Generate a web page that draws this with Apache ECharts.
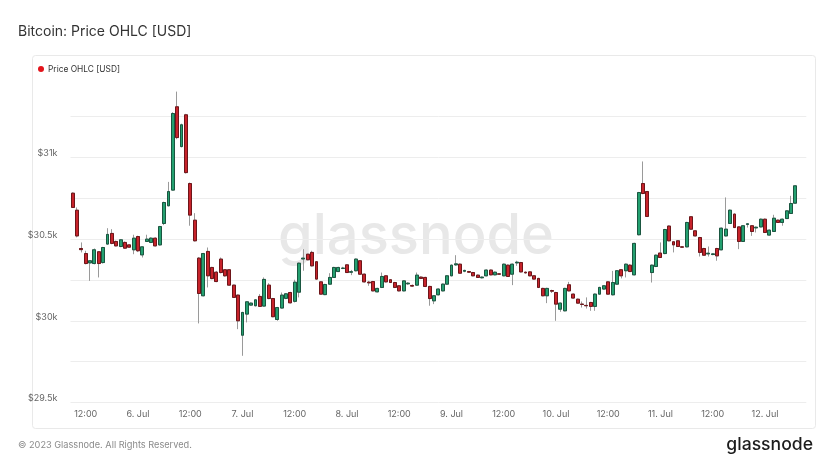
<!DOCTYPE html>
<html>
<head>
<meta charset="utf-8">
<script src="https://cdn.jsdelivr.net/npm/echarts@6/dist/echarts.min.js"></script>
<style>
html,body{margin:0;padding:0;background:#fff;}
#c{width:832px;height:468px;}
</style>
</head>
<body>
<div id="c"></div>
<script>
// Hourly candles starting 5 Jul 09:00 (hour offset from 5 Jul 00:00)
var startHour = 9;
var slotCount = 169; // categories on the axis (last two hours empty)
var categories = [];
for (var k = 0; k < slotCount; k++) {
  var h = startHour + k;
  var day = 5 + Math.floor(h / 24);
  var hh = h % 24;
  categories.push(day + '|' + hh);
}

var openValues = [30780,30676,30442,30411,30354,30350,30422,30356,30469,30534,30485,30454,30479,30464,30434,30515,30403,30485,30479,30505,
30464,30595,30703,30799,31308,31065,31259,30839,30615,30383,30153,30424,30326,30297,30377,30312,30312,30218,30157,29912,
30041,30096,30092,30149,30090,30218,30136,30008,30078,30137,30173,30119,30175,30378,30407,30418,30361,30238,30160,30224,
30265,30301,30320,30342,30297,30306,30367,30285,30236,30240,30177,30204,30275,30251,30234,30214,30183,30226,30216,30218,
30267,30265,30210,30122,30159,30183,30224,30275,30342,30346,30303,30301,30295,30279,30263,30275,30310,30281,30287,30275,
30340,30285,30354,30356,30297,30299,30275,30259,30198,30153,30185,30173,30071,30061,30220,30163,30132,30102,30094,30112,
30088,30163,30194,30238,30159,30224,30312,30306,30340,30281,30526,30839,30790,30295,30332,30414,30411,30579,30483,30489,
30452,30452,30636,30550,30509,30442,30409,30405,30442,30434,30519,30595,30652,30574,30485,30589,30581,30568,30574,30621,
30524,30546,30615,30601,30625,30656,30719];
var closeValues = [30693,30519,30435,30350,30367,30434,30350,30448,30528,30473,30458,30495,30444,30450,30505,30428,30452,30499,30505,30458,
30576,30723,30790,31267,31120,31198,30906,30646,30489,30167,30411,30275,30258,30240,30295,30275,30218,30143,30000,30051,
30116,30108,30128,30088,30253,30136,30025,30081,30157,30165,30110,30236,30352,30383,30373,30336,30255,30163,30222,30265,
30326,30326,30322,30295,30300,30377,30285,30238,30232,30183,30198,30271,30238,30234,30204,30183,30244,30230,30212,30279,
30259,30210,30136,30153,30194,30224,30275,30340,30348,30291,30308,30297,30275,30265,30267,30310,30281,30297,30285,30346,
30271,30346,30358,30299,30293,30275,30255,30204,30153,30198,30181,30102,30108,30198,30183,30139,30108,30100,30092,30088,
30163,30204,30214,30163,30234,30306,30275,30346,30301,30473,30784,30778,30638,30340,30401,30387,30558,30489,30464,30454,
30450,30601,30560,30519,30418,30401,30413,30409,30397,30566,30560,30676,30570,30485,30581,30593,30546,30572,30621,30540,
30554,30627,30601,30621,30672,30717,30825];
var lowValues = [30690,30510,30418,30345,30244,30345,30265,30350,30465,30468,30455,30450,30440,30446,30407,30420,30387,30482,30475,30455,
30460,30585,30700,30795,31110,31060,30900,30581,30485,29984,30150,30204,30254,30236,30290,30270,30214,30140,29949,29786,
29990,30092,30088,30085,30088,30132,30022,30000,30075,30132,30106,30112,30143,30306,30370,30332,30252,30160,30157,30220,
30262,30298,30316,30292,30279,30302,30282,30234,30214,30180,30174,30200,30234,30231,30200,30180,30180,30220,30208,30214,
30255,30206,30092,30102,30155,30180,30220,30272,30336,30288,30297,30293,30272,30262,30259,30272,30278,30278,30281,30272,
30268,30218,30336,30296,30289,30272,30252,30200,30150,30108,30170,30000,30055,30058,30180,30136,30105,30081,30075,30061,
30061,30160,30190,30160,30155,30220,30259,30265,30298,30278,30522,30774,30634,30234,30328,30384,30407,30486,30418,30451,
30446,30449,30557,30516,30393,30398,30393,30401,30367,30431,30516,30592,30567,30438,30482,30570,30519,30540,30571,30537,
30521,30543,30598,30581,30622,30653,30716];
var highValues = [30785,30693,30479,30428,30370,30442,30425,30452,30566,30560,30490,30500,30485,30468,30526,30520,30455,30526,30510,30510,
30580,30728,30849,31275,31401,31205,31265,30845,30658,30390,30415,30448,30330,30305,30387,30316,30316,30220,30160,30055,
30120,30112,30132,30163,30265,30230,30140,30085,30173,30170,30177,30251,30356,30438,30410,30428,30365,30242,30226,30291,
30330,30330,30330,30346,30311,30381,30371,30289,30244,30244,30202,30295,30279,30255,30238,30218,30248,30236,30222,30295,
30271,30269,30214,30157,30198,30228,30279,30344,30401,30350,30312,30305,30299,30283,30271,30314,30314,30301,30291,30350,
30344,30350,30367,30360,30301,30303,30279,30263,30202,30202,30190,30177,30112,30202,30238,30167,30136,30118,30143,30116,
30167,30208,30218,30242,30305,30310,30316,30350,30346,30477,30788,30974,30794,30344,30405,30479,30562,30583,30487,30493,
30456,30605,30640,30554,30513,30446,30454,30413,30446,30570,30754,30680,30656,30578,30585,30597,30585,30576,30625,30625,
30558,30648,30619,30625,30676,30764,30830];

var yTickLabels = {29500:'$29.5k', 30000:'$30k', 30500:'$30.5k', 31000:'$31k'};

var wickData = [], bodyData = [];
for (var i = 0; i < slotCount; i++) {
  if (i < openValues.length) {
    var o = openValues[i], c = closeValues[i];
    wickData.push([o, c, lowValues[i], highValues[i]]);
    bodyData.push([o, c, Math.min(o, c), Math.max(o, c)]);
  } else {
    wickData.push('-');
    bodyData.push('-');
  }
}

var chart = echarts.init(document.getElementById('c'), null, {renderer: 'canvas'});
var FONT = 'Inter, "Noto Sans", sans-serif';
chart.setOption({
  animation: false,
  backgroundColor: '#ffffff',
  textStyle: {fontFamily: FONT},
  graphic: [
    {type: 'rect', z: -20, silent: true,
     shape: {x: 32.5, y: 55.5, width: 783, height: 373, r: 3},
     style: {fill: '#ffffff', stroke: '#e9e9e9', lineWidth: 1}},
    {type: 'text', z: -10, silent: true, left: 'center', top: 209,
     style: {text: 'glassnode', font: '500 56px ' + FONT, fill: '#e8e8e8'}},
    {type: 'text', left: 18, top: 25, silent: true,
     style: {text: 'Bitcoin: Price OHLC [USD]', font: '14px ' + FONT, fill: '#333333'}},
    {type: 'text', left: 18, top: 441, silent: true,
     style: {text: '\u00a9 2023 Glassnode. All Rights Reserved.', font: '9.2px ' + FONT, fill: '#8a8a8a'}},
    {type: 'text', right: 19, top: 436, silent: true,
     style: {text: 'glassnode', font: '500 17.6px ' + FONT, fill: '#1c1c1c'}}
  ],
  legend: {
    left: 33, top: 60, itemWidth: 6, itemHeight: 6, itemGap: 10, selectedMode: false,
    textStyle: {fontSize: 8.4, color: '#333333', fontFamily: FONT, padding: [0, 0, 0, -1]},
    data: [{name: 'Price OHLC [USD]', icon: 'circle', itemStyle: {color: '#e3141b', borderWidth: 0}}]
  },
  grid: {left: 70.5, right: 25.7, top: 75.4, bottom: 65.4, containLabel: false},
  xAxis: {
    type: 'category',
    data: categories,
    boundaryGap: true,
    axisLine: {show: false},
    axisTick: {show: false},
    splitLine: {show: false},
    axisLabel: {
      interval: function (idx) { return (startHour + idx) % 12 === 0; },
      formatter: function (v) {
        var p = v.split('|');
        return p[1] === '12' ? '12:00' : (p[0] + '. Jul');
      },
      color: '#666666', fontSize: 9, margin: 7, fontFamily: FONT
    }
  },
  yAxis: {
    type: 'value', min: 29500, max: 31500, interval: 250,
    axisLine: {show: false},
    axisTick: {show: false},
    splitLine: {show: true, showMaxLine: false, lineStyle: {color: '#ededed', width: 1}},
    axisLabel: {
      formatter: function (v) { return yTickLabels[v] || ''; },
      color: '#666666', fontSize: 9, margin: 13, verticalAlign: 'bottom', lineHeight: 8, fontFamily: FONT
    }
  },
  series: [
    {type: 'candlestick', name: 'wicks', data: wickData, barWidth: 3.4, silent: true, z: 2,
     itemStyle: {color: '#9a9a9a', color0: '#9a9a9a', borderColor: '#9a9a9a', borderColor0: '#9a9a9a', borderWidth: 1}},
    {type: 'candlestick', name: 'Price OHLC [USD]', data: bodyData, barWidth: 3.4, silent: true, z: 3,
     itemStyle: {color: '#24a070', color0: '#c7232b', borderColor: '#1a5640', borderColor0: '#6e1519', borderWidth: 1}}
  ]
});
</script>
</body>
</html>
